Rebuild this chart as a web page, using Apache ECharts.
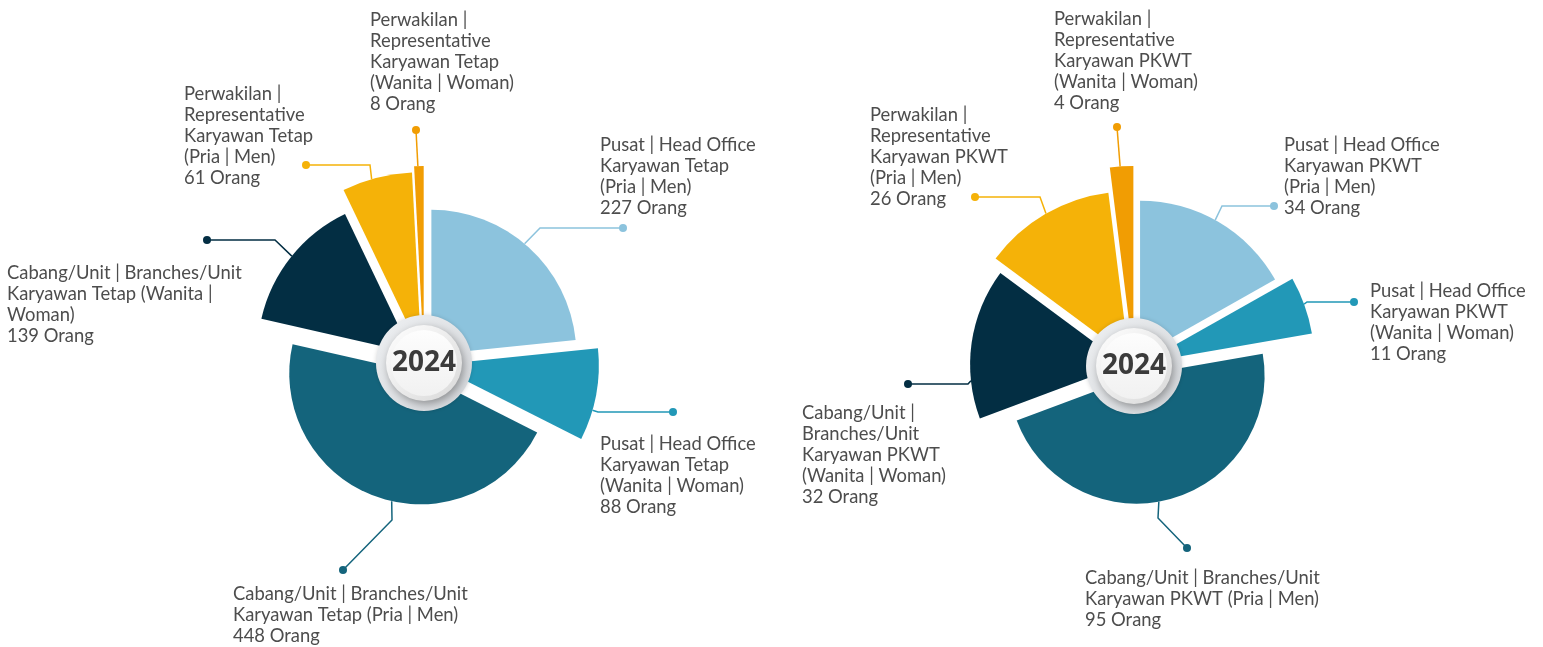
<!DOCTYPE html>
<html><head><meta charset="utf-8">
<script src="https://cdn.jsdelivr.net/npm/echarts@6/dist/echarts.min.js"></script>
<style>html,body{margin:0;padding:0;background:#fff}#c{width:1543px;height:647px}</style>
</head><body><div id="c"></div>
<script>
// ---------- DATA ----------
const categoriesTetap = [
  'Pusat | Head Office\nKaryawan Tetap\n(Pria | Men)',
  'Pusat | Head Office\nKaryawan Tetap\n(Wanita | Woman)',
  'Cabang/Unit | Branches/Unit\nKaryawan Tetap (Pria | Men)',
  'Cabang/Unit | Branches/Unit\nKaryawan Tetap (Wanita |\nWoman)',
  'Perwakilan |\nRepresentative\nKaryawan Tetap\n(Pria | Men)',
  'Perwakilan |\nRepresentative\nKaryawan Tetap\n(Wanita | Woman)'
];
const valuesTetap = [227, 88, 448, 139, 61, 8];

const categoriesPKWT = [
  'Pusat | Head Office\nKaryawan PKWT\n(Pria | Men)',
  'Pusat | Head Office\nKaryawan PKWT\n(Wanita | Woman)',
  'Cabang/Unit | Branches/Unit\nKaryawan PKWT (Pria | Men)',
  'Cabang/Unit |\nBranches/Unit\nKaryawan PKWT\n(Wanita | Woman)',
  'Perwakilan |\nRepresentative\nKaryawan PKWT\n(Pria | Men)',
  'Perwakilan |\nRepresentative\nKaryawan PKWT\n(Wanita | Woman)'
];
const valuesPKWT = [34, 11, 95, 32, 26, 4];

const yearLabel = '2024';
const unitLabel = 'Orang';

// ---------- STYLE / LAYOUT ----------
const colors = ['#8CC3DD', '#2298B7', '#14647C', '#032E43', '#F5B208', '#F19D03'];
const textColor = '#4d4d4d';
const fontFamily = 'Lato, "Open Sans", sans-serif';

const layouts = [
  {
    center: [424, 363],
    offset: [11, 11, 11, 16, 11, 11],
    radius: [145, 164, 131, 154, 180, 186],
    labels: [
      { x: 600, yc: 145, a: 40, elbow: [540, 228], dot: [623, 228] },
      { x: 600, yc: 444, a: 106, elbow: [598, 412], dot: [673, 412] },
      { x: 233, yc: 594, a: 192.6, elbow: [392, 520], dot: [343, 570] },
      { x: 7, yc: 273, a: 309, elbow: [275, 240], dot: [207, 240] },
      { x: 184, yc: 94, a: 344, elbow: [370, 165], dot: [306, 165] },
      { x: 370, yc: 20, a: 358.2, elbow: null, dot: [416, 130] }
    ]
  },
  {
    center: [1134, 366],
    offset: [12, 10, 10, 10, 10, 10],
    radius: [155, 171, 128, 154, 166, 190],
    labels: [
      { x: 1284, yc: 145, a: 29, elbow: [1222, 206], dot: [1274, 206] },
      { x: 1370, yc: 291, a: 70, elbow: [1307, 302], dot: [1354, 302] },
      { x: 1085, yc: 578, a: 170, elbow: [1158, 518], dot: [1187, 548] },
      { x: 802, yc: 413, a: 264, elbow: [968, 384], dot: [908, 384] },
      { x: 870, yc: 115, a: 330, elbow: [1040, 197], dot: [975, 197] },
      { x: 1054, yc: 19, a: 356, elbow: null, dot: [1117, 127] }
    ]
  }
];

const datasets = [
  { names: categoriesTetap, values: valuesTetap },
  { names: categoriesPKWT, values: valuesPKWT }
];

function rad(deg) { return deg * Math.PI / 180; }

const series = [];
const graphics = [];

datasets.forEach(function (ds, k) {
  const L = layouts[k];
  const total = ds.values.reduce(function (s, v) { return s + v; }, 0);
  let cum = 0;
  ds.values.forEach(function (v, i) {
    const bis = (cum + v / 2) / total * 360;
    cum += v;
    const d = L.offset[i];
    const c = [L.center[0] + d * Math.sin(rad(bis)), L.center[1] - d * Math.cos(rad(bis))];
    const R = L.radius[i];
    const lab = L.labels[i];
    const col = colors[i];
    series.push({
      type: 'pie',
      center: c,
      radius: [0, R],
      startAngle: 90,
      clockwise: true,
      silent: true,
      animation: false,
      avoidLabelOverlap: false,
      minShowLabelAngle: 0,
      z: 2,
      data: ds.values.map(function (val, j) {
        return {
          value: val,
          name: ds.names[j],
          itemStyle: { color: colors[j], opacity: j === i ? 1 : 0 },
          label: { show: j === i },
          labelLine: { show: j === i }
        };
      }),
      label: {
        position: 'outside',
        formatter: function (p) { return p.name + '\n' + p.value + ' ' + unitLabel; },
        color: textColor,
        fontFamily: fontFamily,
        fontSize: 18.4,
        lineHeight: 21,
        align: 'left'
      },
      labelLine: {
        show: true,
        length: 10,
        length2: 10,
        lineStyle: { color: col, width: 1.5 }
      },
      labelLayout: function (params) {
        if (params.dataIndex !== i) return {};
        const start = [c[0] + R * Math.sin(rad(lab.a)), c[1] - R * Math.cos(rad(lab.a))];
        const pts = lab.elbow ? [start, lab.elbow, lab.dot] : [start, lab.dot];
        return {
          x: lab.x,
          y: lab.yc - 10.5,
          align: 'left',
          verticalAlign: 'top',
          labelLinePoints: pts
        };
      }
    });
    graphics.push({
      type: 'circle',
      shape: { cx: lab.dot[0], cy: lab.dot[1], r: 4 },
      style: { fill: col },
      z: 50
    });
  });

  // center medallion
  const cx = L.center[0], cy = L.center[1];
  graphics.push({
    type: 'circle', z: 100,
    shape: { cx: cx, cy: cy, r: 48 },
    style: {
      fill: new echarts.graphic.LinearGradient(0, 0, 1, 1, [
        { offset: 0, color: '#eef0f2' }, { offset: 1, color: '#d3d6da' }
      ]),
      shadowBlur: 4, shadowColor: 'rgba(0,0,0,0.15)'
    }
  });
  graphics.push({
    type: 'circle', z: 101,
    shape: { cx: cx, cy: cy, r: 38 },
    style: {
      fill: new echarts.graphic.LinearGradient(0, 0, 1, 1, [
        { offset: 0, color: '#ffffff' }, { offset: 1, color: '#d8d8d8' }
      ]),
      shadowBlur: 8, shadowColor: 'rgba(0,0,0,0.35)', shadowOffsetX: 2, shadowOffsetY: 3
    }
  });
  graphics.push({
    type: 'circle', z: 102,
    shape: { cx: cx, cy: cy, r: 33 },
    style: {
      fill: new echarts.graphic.LinearGradient(0, 0, 0, 1, [
        { offset: 0, color: '#fdfdfd' }, { offset: 1, color: '#f1f1f1' }
      ])
    }
  });
  graphics.push({
    type: 'text', z: 103,
    x: cx, y: cy,
    style: {
      text: yearLabel,
      fill: '#3b3b3b',
      font: 'bold 28px "Noto Sans", "Open Sans", sans-serif',
      align: 'center',
      verticalAlign: 'middle'
    }
  });
});

const chart = echarts.init(document.getElementById('c'), null, { renderer: 'canvas' });
chart.setOption({
  backgroundColor: '#ffffff',
  animation: false,
  series: series,
  graphic: { elements: graphics }
});
</script>
</body></html>
